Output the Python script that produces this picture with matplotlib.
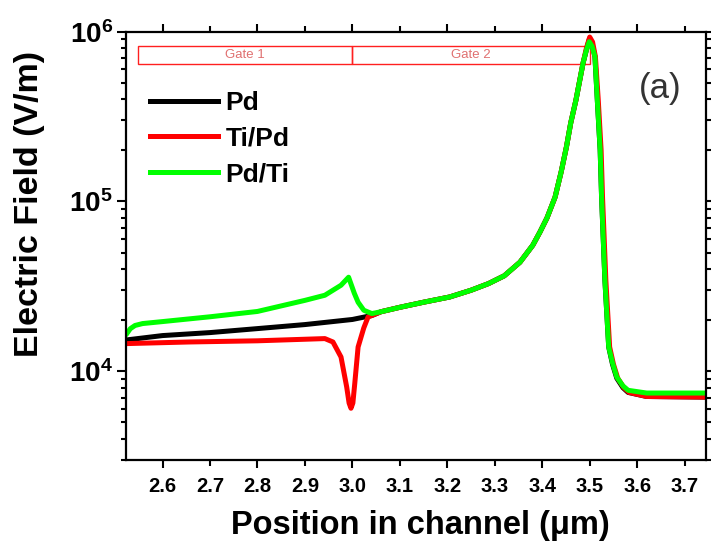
import numpy as np
import matplotlib
matplotlib.use("Agg")
import matplotlib.pyplot as plt
from matplotlib.ticker import FixedLocator, FuncFormatter, LogLocator, NullFormatter, FormatStrFormatter
from matplotlib.patches import Rectangle
import matplotlib.transforms as mtransforms

plt.rcParams['font.family'] = ['Liberation Sans', 'DejaVu Sans']
plt.rcParams['mathtext.fontset'] = 'custom'
plt.rcParams['mathtext.rm'] = 'Liberation Sans'
plt.rcParams['mathtext.bf'] = 'Liberation Sans:bold'

# data (x in um, field in V/m)
pd_x = [2.525, 2.6, 2.7, 2.8, 2.9, 3.0, 3.041, 3.06, 3.1, 3.15, 3.205, 3.25, 3.287,
        3.32, 3.353, 3.38, 3.395, 3.41, 3.427, 3.44, 3.451, 3.46, 3.471, 3.478, 3.486,
        3.493, 3.499, 3.505, 3.511, 3.516, 3.522, 3.525, 3.532, 3.540, 3.548, 3.557,
        3.57, 3.581, 3.62, 3.745]
pd_y = [15300, 16220, 16890, 17830, 18830, 20180, 21300, 22400, 23800, 25500, 27380,
        30000, 32850, 36500, 43860, 55200, 65920, 80000, 106000, 150000, 209900,
        290000, 395700, 500000, 653900, 780000, 900000, 850000, 712300, 395700,
        200700, 106000, 34360, 13890, 11000, 9100, 8000, 7500, 7100, 7040]

tipd_x = [2.525, 2.656, 2.8, 2.942, 2.959, 2.976, 2.988, 2.993, 2.997, 3.001, 3.005,
          3.012, 3.024, 3.033, 3.041, 3.06, 3.1, 3.15, 3.205, 3.25, 3.287, 3.32, 3.353,
          3.38, 3.395, 3.41, 3.427, 3.44, 3.451, 3.46, 3.471, 3.478, 3.486, 3.493, 3.500,
          3.506, 3.512, 3.518, 3.524, 3.527, 3.534, 3.542, 3.55, 3.559, 3.572, 3.583,
          3.62, 3.745]
tipd_y = [14550, 14870, 15110, 15570, 14870, 12130, 8070, 6500, 6050, 6500, 8480,
          13890, 18000, 20870, 21300, 22400, 23800, 25500, 27380, 30000, 32850, 36500,
          43860, 55200, 65920, 80000, 106000, 150000, 209900, 290000, 395700, 500000,
          653900, 800000, 930000, 870000, 712300, 395700, 200700, 106000, 34360, 13890,
          11000, 9100, 8000, 7500, 7100, 7040]

pdti_x = [2.525, 2.532, 2.542, 2.558, 2.6, 2.7, 2.8, 2.9, 2.942, 2.976, 2.992, 3.004,
          3.012, 3.024, 3.041, 3.06, 3.1, 3.15, 3.205, 3.25, 3.287, 3.32, 3.353, 3.38,
          3.395, 3.41, 3.427, 3.44, 3.451, 3.46, 3.471, 3.478, 3.486, 3.493, 3.499,
          3.505, 3.511, 3.516, 3.522, 3.525, 3.532, 3.540, 3.548, 3.557, 3.57, 3.581,
          3.62, 3.745]
pdti_y = [16700, 17800, 18600, 19090, 19610, 20930, 22500, 26150, 28030, 32100, 35790,
          28800, 25500, 22870, 21860, 22400, 23800, 25500, 27380, 30000, 32850, 36500,
          43860, 55200, 65920, 80000, 106000, 150000, 209900, 290000, 395700, 500000,
          653900, 780000, 873000, 820000, 712300, 395700, 200700, 106000, 34360, 13890,
          11200, 9240, 8200, 7720, 7440, 7440]

labels = ['Pd', 'Ti/Pd', 'Pd/Ti']
colors = ['black', '#ff0000', '#00ff00']

gate_names = ['Gate 1', 'Gate 2']
gate_edges = [2.548, 3.0, 3.5]

fig = plt.figure(figsize=(7.11, 5.51), dpi=100)
ax = fig.add_axes([126/711, 91/551, 580/711, 428.3/551])

for xs, ys, lab, c in zip([pd_x, tipd_x, pdti_x], [pd_y, tipd_y, pdti_y], labels, colors):
    ax.plot(xs, ys, color=c, lw=3.6, label=lab, solid_joinstyle='round')

ax.set_yscale('log')
ax.set_xlim(2.523, 3.745)
ax.set_ylim(3000, 1e6)

# gate boxes along the top
trans = mtransforms.blended_transform_factory(ax.transData, ax.transAxes)
for i, name in enumerate(gate_names):
    x0, x1 = gate_edges[i], gate_edges[i + 1]
    ax.add_patch(Rectangle((x0, 0.924), x1 - x0, 0.043, transform=trans,
                           fill=False, edgecolor='#ff2020', lw=1.0, zorder=1))
    ax.text((x0 + x1) / 2, 0.945, name, transform=trans, ha='center', va='center',
            fontsize=9.5, color='#e07070')

ax.text((660 - 126) / 580, (460 - 88) / 428.3, '(a)', transform=ax.transAxes,
        ha='center', va='center', fontsize=25, color='#333333')

leg = ax.legend(loc='upper left', bbox_to_anchor=(0.041, 0.862), frameon=False,
                prop={'weight': 'bold', 'size': 19}, handlelength=2.6,
                handletextpad=0.27, labelspacing=0.44, borderpad=0, borderaxespad=0)
for h in leg.get_lines():
    h.set_linewidth(3.6)

# ticks
ax.xaxis.set_major_locator(FixedLocator([2.6, 2.8, 3.0, 3.2, 3.4, 3.6]))
ax.xaxis.set_minor_locator(FixedLocator([2.7, 2.9, 3.1, 3.3, 3.5, 3.7]))
ax.xaxis.set_major_formatter(FormatStrFormatter('%.1f'))
ax.xaxis.set_minor_formatter(FormatStrFormatter('%.1f'))
ax.yaxis.set_major_locator(LogLocator(base=10, numticks=10))
ax.yaxis.set_minor_locator(LogLocator(base=10, subs=np.arange(2, 10), numticks=20))
ax.yaxis.set_major_formatter(FuncFormatter(lambda v, p: r'$\mathbf{10^{%d}}$' % round(np.log10(v))))
ax.yaxis.set_minor_formatter(NullFormatter())

ax.tick_params(axis='both', which='both', direction='out', width=1.5,
               top=True, right=True)
ax.tick_params(axis='x', which='major', length=6, pad=6, labelsize=14.5)
ax.tick_params(axis='x', which='minor', length=4, pad=8, labelsize=14.5)
ax.tick_params(axis='y', which='major', length=6.5, pad=3, labelsize=20)
ax.tick_params(axis='y', which='minor', length=3.3)
for lbl in ax.get_xticklabels(which='both'):
    lbl.set_fontweight('bold')

for sp in ax.spines.values():
    sp.set_linewidth(1.6)

ax.set_xlabel('Position in channel (\u03bcm)', fontsize=23.5, fontweight='bold')
ax.set_ylabel('Electric Field (V/m)', fontsize=24.5, fontweight='bold')
ax.xaxis.set_label_coords(0.507, -0.117)
ax.yaxis.set_label_coords(-0.14, 0.598)

fig.savefig('out.png', dpi=100)
